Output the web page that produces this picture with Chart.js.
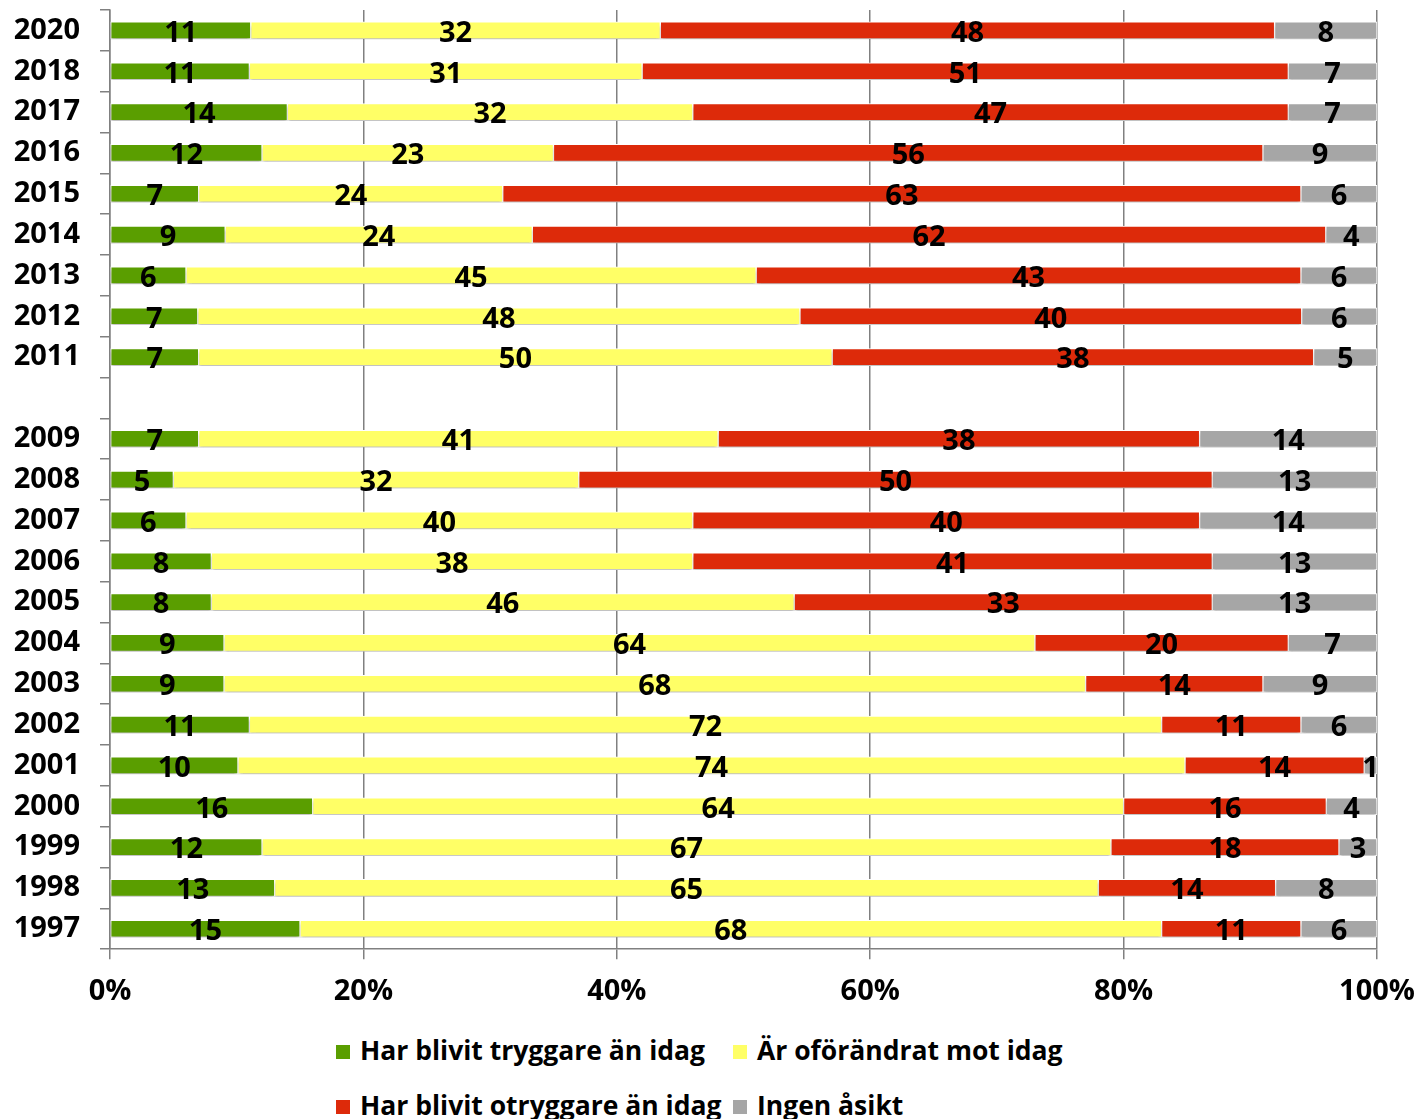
<!DOCTYPE html>
<html>
<head>
<meta charset="utf-8">
<script src="https://cdn.jsdelivr.net/npm/chart.js@4"></script>
<style>
    html, body { margin: 0; padding: 0; background: #fff; }
    body { width: 1416px; height: 1119px; position: relative; overflow: hidden; font-family: "Open Sans", sans-serif; }
    #wrap { position: absolute; left: 0; top: 0; width: 1416px; height: 1024px; }
    .legend-item { position: absolute; font-weight: bold; font-size: 26.5px; color: #000; white-space: nowrap; line-height: 34px; }
    .legend-item span.box { display: inline-block; width: 14px; height: 14px; margin-right: 10px; vertical-align: 1px; }
</style>
</head>
<body>
<div id="wrap"><canvas id="chart"></canvas></div>
<div class="legend-item" style="left:336px; top:1033px;"><span class="box" style="background:#5a9e00"></span>Har blivit tryggare än idag</div>
<div class="legend-item" style="left:733px; top:1033px;"><span class="box" style="background:#ffff66"></span>Är oförändrat mot idag</div>
<div class="legend-item" style="left:336px; top:1088px;"><span class="box" style="background:#dd2a0a"></span>Har blivit otryggare än idag</div>
<div class="legend-item" style="left:733px; top:1088px;"><span class="box" style="background:#a6a6a6"></span>Ingen åsikt</div>
<script>
const years = ['2020', '2018', '2017', '2016', '2015', '2014', '2013', '2012', '2011', '',
    '2009', '2008', '2007', '2006', '2005', '2004', '2003', '2002', '2001', '2000', '1999', '1998', '1997'];

const tryggare   = [11, 11, 14, 12, 7, 9, 6, 7, 7, null, 7, 5, 6, 8, 8, 9, 9, 11, 10, 16, 12, 13, 15];
const oforandrat = [32, 31, 32, 23, 24, 24, 45, 48, 50, null, 41, 32, 40, 38, 46, 64, 68, 72, 74, 64, 67, 65, 68];
const otryggare  = [48, 51, 47, 56, 63, 62, 43, 40, 38, null, 38, 50, 40, 41, 33, 20, 14, 11, 14, 16, 18, 14, 11];
const ingenAsikt = [8, 7, 7, 9, 6, 4, 6, 6, 5, null, 14, 13, 14, 13, 13, 7, 9, 6, 1, 4, 3, 8, 6];

const xTicks = [0, 20, 40, 60, 80, 100];

const seriesNames = ['Har blivit tryggare än idag', 'Är oförändrat mot idag', 'Har blivit otryggare än idag', 'Ingen åsikt'];
const seriesColors = ['#5a9e00', '#ffff66', '#dd2a0a', '#a6a6a6'];
const rawSeries = [tryggare, oforandrat, otryggare, ingenAsikt];

// 100% stacked: each row is scaled to its own total
const rowTotals = years.map((y, i) => rawSeries.reduce((s, arr) => s + (arr[i] || 0), 0));
function toPercent(arr) {
    return arr.map((v, i) => v == null ? null : v / rowTotals[i] * 100);
}

const FONT = '"Open Sans", sans-serif';
const gridColor = '#808080';

const shadowPlugin = {
    id: 'barShadow',
    beforeDatasetsDraw(chart) {
        const ctx = chart.ctx;
        ctx.save();
        ctx.shadowColor = 'rgba(0, 0, 0, 0.25)';
        ctx.shadowBlur = 3;
        ctx.shadowOffsetY = 3;
    },
    afterDatasetsDraw(chart) {
        chart.ctx.restore();
    }
};

const valueLabels = {
    id: 'valueLabels',
    afterDatasetsDraw(chart) {
        const ctx = chart.ctx;
        ctx.save();
        ctx.font = 'bold 29px ' + FONT;
        ctx.fillStyle = '#000';
        ctx.textAlign = 'center';
        ctx.textBaseline = 'middle';
        chart.data.datasets.forEach((ds, i) => {
            const meta = chart.getDatasetMeta(i);
            meta.data.forEach((bar, j) => {
                const v = rawSeries[i][j];
                if (v == null) return;
                const cx = (bar.x + bar.base) / 2;
                ctx.fillText(String(v), cx, bar.y + 3);
            });
        });
        ctx.restore();
    }
};

new Chart(document.getElementById('chart'), {
    type: 'bar',
    data: {
        labels: years,
        datasets: rawSeries.map((arr, i) => ({
            label: seriesNames[i],
            data: toPercent(arr),
            backgroundColor: seriesColors[i],
            borderColor: '#ffffff',
            borderWidth: 1,
            borderSkipped: false,
            barThickness: 17
        }))
    },
    options: {
        indexAxis: 'y',
        responsive: true,
        maintainAspectRatio: false,
        animation: false,
        layout: { padding: { top: 10, right: 39, bottom: 0, left: 0 } },
        plugins: {
            legend: { display: false },
            tooltip: { enabled: false }
        },
        scales: {
            x: {
                stacked: true,
                min: 0,
                max: 100,
                afterBuildTicks: scale => { scale.ticks = xTicks.map(v => ({ value: v })); },
                afterFit: scale => { scale.paddingLeft = 0; scale.paddingRight = 0; },
                ticks: {
                    callback: v => v + '%',
                    color: '#000',
                    font: { family: FONT, size: 29, weight: 'bold' },
                    padding: 15,
                    maxRotation: 0
                },
                grid: {
                    color: gridColor,
                    lineWidth: 1.5,
                    tickLength: 10
                },
                border: { display: true, color: gridColor, width: 1.5 }
            },
            y: {
                stacked: true,
                afterFit: scale => { scale.width = 110; scale.paddingTop = 0; scale.paddingBottom = 0; },
                ticks: {
                    color: '#000',
                    font: { family: FONT, size: 29, weight: 'bold' },
                    padding: 20
                },
                grid: {
                    offset: true,
                    drawOnChartArea: false,
                    drawTicks: true,
                    tickLength: 10,
                    color: gridColor,
                    lineWidth: 1.5
                },
                border: { display: true, color: gridColor, width: 1.5 }
            }
        }
    },
    plugins: [shadowPlugin, valueLabels]
});
</script>
</body>
</html>
